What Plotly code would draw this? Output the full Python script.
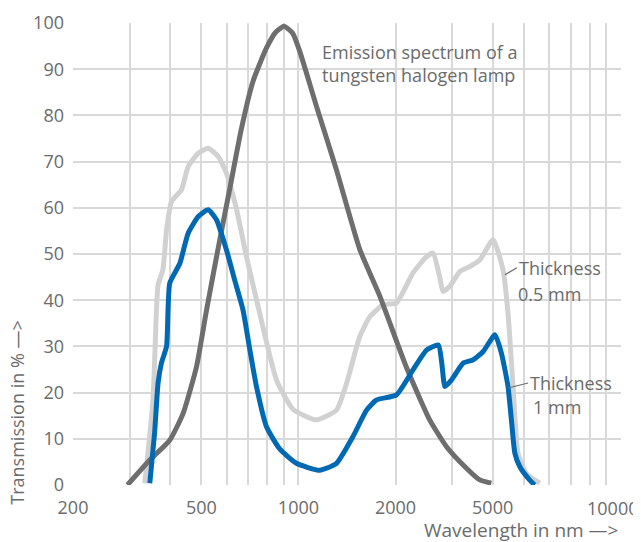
import plotly.graph_objects as go

# Emission spectrum of tungsten halogen lamp
lamp_nm = [295, 346, 399, 439, 483, 519, 570, 612, 665, 723, 796, 850, 902, 960, 1009, 1137, 1312, 1549, 1785, 2161, 2552, 2878, 3300, 3649, 3963]
lamp_pct = [0, 5.4, 9.7, 15.5, 25.6, 37.9, 53, 64, 77, 87.4, 94.6, 98, 99.3, 97.8, 93.9, 82, 68.2, 51, 41, 25.5, 14.1, 8.3, 3.8, 1.1, 0.4]

# Thickness 0.5 mm
t05_nm = [334, 354, 363, 367, 380, 390, 404, 434, 455, 489, 525, 564, 598, 643, 690, 750, 855, 962, 1137, 1312, 1410, 1549, 1664, 1829, 2013, 2265, 2494, 2613, 2740, 2806, 2945, 3165, 3400, 3649, 4014, 4307, 4464, 4626, 4794, 5090, 5600]
t05_pct = [0.4, 18.4, 38, 43.3, 46.6, 55.2, 61.4, 63.9, 68.9, 71.8, 72.9, 71.1, 67.5, 59.6, 49.4, 38.6, 22.7, 16.4, 14.1, 16.2, 22, 32.1, 36.4, 39, 39.4, 45.9, 49.4, 50.2, 45.1, 41.9, 43, 46.2, 47.3, 48.7, 53.1, 46.6, 37.2, 21.3, 6.9, 2.5, 0.4]

# Thickness 1 mm
t1_nm = [346, 358, 367, 376, 390, 399, 429, 455, 489, 525, 557, 598, 634, 673, 707, 741, 796, 875, 986, 1164, 1312, 1476, 1626, 1745, 2013, 2265, 2494, 2716, 2782, 2846, 2979, 3244, 3484, 3740, 4066, 4260, 4464, 4573, 4687, 4853, 5206, 5400]
t1_pct = [0.4, 11.2, 22, 26.4, 30, 43.7, 48, 54.5, 58.1, 59.6, 57.4, 50.9, 44.4, 37.9, 29.2, 21.3, 12.6, 7.8, 4.7, 3.2, 4.7, 10.5, 16.2, 18.4, 19.5, 24.9, 29.2, 30.3, 26.4, 21.3, 22.7, 26.4, 27.1, 28.9, 32.5, 28.5, 21.3, 14.1, 6.9, 4.0, 1.1, 0]

x_tickvals = [200, 500, 1000, 2000, 4000, 10000]
x_ticktext = ["200", "500", "1000", "2000", "5000", ""]
x_last_label = "10000"   # drawn separately so it stays inside the page edge
x_edge_ticks = [200, 10000]
x_minor_grid = [300, 400, 600, 700, 800, 900, 3000, 5000, 6000, 7000, 8000, 9000]
y_tickvals = [0, 10, 20, 30, 40, 50, 60, 70, 80, 90, 100]

FONT = "Open Sans"
FS = 18
TXT = "#6b6b6b"
GRID = "#d9d9d9"

# page body has an 8px default margin; figure is sized/offset to compensate
PW, PH = 548, 461.7          # plot area size in px
L, T = 65.3, 15.3
W, H = 633, 534
XR = [2.30103, 4]

fig = go.Figure()
fig.add_trace(go.Scatter(x=t05_nm, y=t05_pct, mode="lines",
                         line=dict(color="#d0d1d0", width=5, shape="spline", smoothing=0.5)))
fig.add_trace(go.Scatter(x=lamp_nm, y=lamp_pct, mode="lines",
                         line=dict(color="#6e6e6e", width=5, shape="spline", smoothing=0.5)))
fig.add_trace(go.Scatter(x=t1_nm, y=t1_pct, mode="lines",
                         line=dict(color="#0069b4", width=5, shape="spline", smoothing=0.5)))

fig.update_layout(
    width=W, height=H,
    margin=dict(l=L, r=W - L - PW, t=T, b=H - T - PH, pad=0),
    paper_bgcolor="white", plot_bgcolor="white",
    showlegend=False,
    font=dict(family=FONT, size=FS, color=TXT),
    xaxis=dict(type="log", range=XR, tickmode="array",
               tickvals=x_tickvals, ticktext=x_ticktext, automargin=False,
               ticklabeloverflow="allow",
               showgrid=True, gridcolor=GRID, gridwidth=1.5,
               minor=dict(tickmode="array", tickvals=x_minor_grid, showgrid=True,
                          gridcolor=GRID, gridwidth=1.5, ticks=""),
               ticks="", ticklabelstandoff=10, zeroline=False, showline=False,
               tickfont=dict(family=FONT, size=FS, color=TXT)),
    xaxis2=dict(type="log", range=XR, overlaying="x", anchor="y", side="bottom",
                tickmode="array", tickvals=x_edge_ticks, showticklabels=False,
                ticks="outside", ticklen=6, tickwidth=1.5, tickcolor=GRID,
                showgrid=False, zeroline=False, showline=False, automargin=False),
    yaxis=dict(range=[0, 100], tickmode="array", tickvals=y_tickvals, automargin=False,
               showgrid=True, gridcolor=GRID, gridwidth=1.5,
               ticks="", ticklabelstandoff=8, zeroline=False, showline=False,
               tickfont=dict(family=FONT, size=FS, color=TXT)),
)

def px(xp):  # reference page x -> paper fraction
    return (xp - 73.3) / PW

def py(yp):  # reference page y -> paper fraction
    return 1 - (yp - 23.3) / PH

fig.add_annotation(text=x_last_label, xref="paper", yref="paper",
                   x=px(640), y=py(508), xanchor="right", yanchor="middle",
                   showarrow=False, font=dict(family=FONT, size=FS, color=TXT))

fig.add_annotation(text="Emission spectrum of a<br>tungsten halogen lamp",
                   xref="paper", yref="paper", x=px(320), y=py(38),
                   xanchor="left", yanchor="top", align="left", showarrow=False,
                   font=dict(family=FONT, size=FS, color=TXT))

fig.add_annotation(text="Thickness", x=3.640, y=45.5, xref="x", yref="y",
                   showarrow=True, arrowhead=0, arrowwidth=1.2, arrowcolor=TXT,
                   ax=12, ay=-7, xanchor="left", yanchor="middle", standoff=0,
                   font=dict(family=FONT, size=FS, color=TXT))
fig.add_annotation(text="0.5 mm", xref="paper", yref="paper",
                   x=px(516), y=py(294),
                   xanchor="left", yanchor="middle", showarrow=False,
                   font=dict(family=FONT, size=FS, color=TXT))

fig.add_annotation(text="Thickness", x=3.650, y=21, xref="x", yref="y",
                   showarrow=True, arrowhead=0, arrowwidth=1.2, arrowcolor=TXT,
                   ax=20, ay=-5, xanchor="left", yanchor="middle", standoff=0,
                   font=dict(family=FONT, size=FS, color=TXT))
fig.add_annotation(text="1 mm", xref="paper", yref="paper",
                   x=px(531), y=py(407),
                   xanchor="left", yanchor="middle", showarrow=False,
                   font=dict(family=FONT, size=FS, color=TXT))

fig.add_annotation(text="Wavelength in nm —>", xref="paper", yref="paper",
                   x=px(620), y=py(530), xanchor="right", yanchor="middle",
                   showarrow=False, font=dict(family=FONT, size=19, color=TXT))
fig.add_annotation(text="Transmission in % —>", xref="paper", yref="paper",
                   x=px(17), y=py(507), textangle=-90,
                   xanchor="center", yanchor="bottom",
                   showarrow=False, font=dict(family=FONT, size=FS, color=TXT))

fig.write_html("out.html")
